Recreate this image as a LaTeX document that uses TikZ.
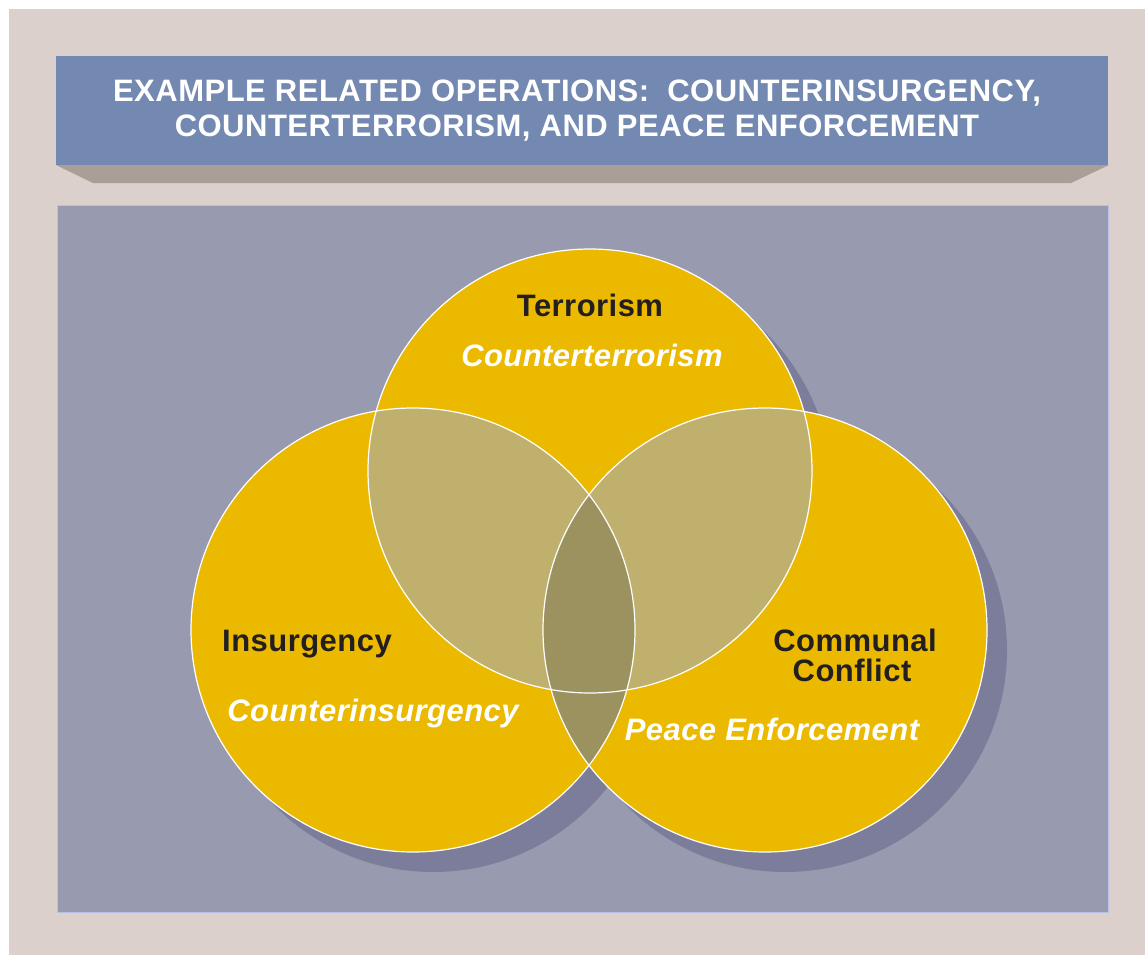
\documentclass[tikz,border=0pt]{standalone}
\usepackage{fontspec}
\setmainfont{Liberation Sans}
\definecolor{beige}{HTML}{DBD0CB}
\definecolor{headblue}{HTML}{7489B1}
\definecolor{headshadow}{HTML}{AA9F96}
\definecolor{panel}{HTML}{989AAF}
\definecolor{panelborder}{HTML}{B8C0E8}
\definecolor{gold}{HTML}{EBB900}
\definecolor{pair}{HTML}{C0B06E}
\definecolor{triple}{HTML}{9C925F}
\definecolor{cshadow}{HTML}{7B7D9A}
\definecolor{darktext}{HTML}{231F20}
\tikzset{
  title/.style={text=white, font=\fontsize{31}{35}\selectfont\bfseries\addfontfeature{LetterSpace=1.6}, anchor=base, inner sep=0pt},
  threat/.style={text=darktext, font=\fontsize{31}{31}\selectfont\bfseries\addfontfeature{LetterSpace=1.5}, anchor=base, inner sep=0pt},
  response/.style={text=white, font=\fontsize{31}{31}\selectfont\bfseries\itshape\addfontfeature{LetterSpace=1.4}, anchor=base, inner sep=0pt},
  ring/.style={draw=white, line width=1.2pt},
}
\begin{document}
\begin{tikzpicture}[x=1pt,y=-1pt]
\useasboundingbox (0,0) rectangle (1145,955);
\fill[white] (0,0) rectangle (1145,955);
\fill[beige] (9,9) rectangle (1145,955);
% header
\fill[headshadow] (56,165) -- (1109,165) -- (1071,183) -- (93,183) -- cycle;
\fill[headblue] (56,56) rectangle (1108,165);
\node[title] (head1) at (577,102) {EXAMPLE RELATED OPERATIONS:\ \ COUNTERINSURGENCY,};
\node[title] (head2) at (577,136) {COUNTERTERRORISM, AND PEACE ENFORCEMENT};
% panel
\filldraw[fill=panel, draw=panelborder, line width=1pt] (57,205) rectangle (1108,912);
% shadows
\fill[cshadow] (610,491) circle[radius=222];
\fill[cshadow] (433,650) circle[radius=222];
\fill[cshadow] (785,650) circle[radius=222];
% circles
\fill[gold] (590,471) circle[radius=222];
\fill[gold] (413,630) circle[radius=222];
\fill[gold] (765,630) circle[radius=222];
\begin{scope}
  \clip (590,471) circle[radius=222];
  \fill[pair] (413,630) circle[radius=222];
  \fill[pair] (765,630) circle[radius=222];
\end{scope}
\begin{scope}
  \clip (413,630) circle[radius=222];
  \fill[triple] (765,630) circle[radius=222];
\end{scope}
\draw[ring] (590,471) circle[radius=222];
\draw[ring] (413,630) circle[radius=222];
\draw[ring] (765,630) circle[radius=222];
% labels
\node[threat] (terr) at (590,316) {Terrorism};
\node[response] (cterr) at (592,366) {Counterterrorism};
\node[threat] (ins) at (307,651) {Insurgency};
\node[response] (cins) at (373,721) {Counterinsurgency};
\node[threat] (comm) at (855,651) {Communal};
\node[threat] (conf) at (852,681) {Conflict};
\node[response] (peace) at (772,740) {Peace Enforcement};
\end{tikzpicture}
\end{document}
